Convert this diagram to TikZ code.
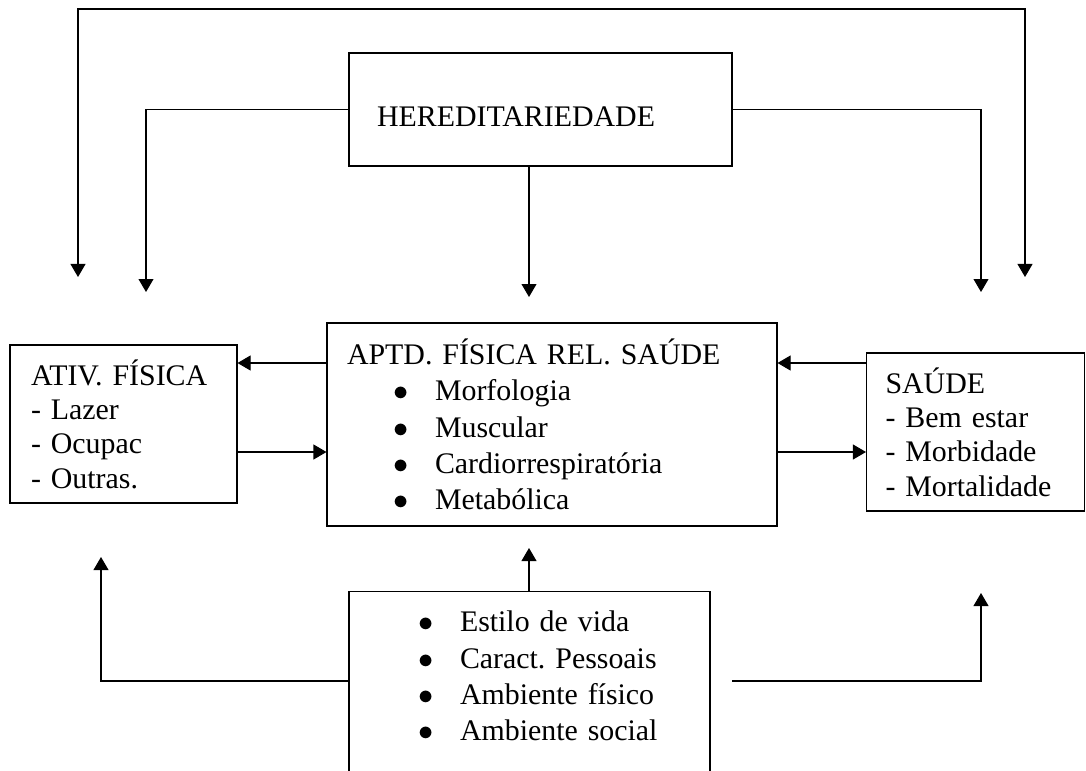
\documentclass[tikz,border=0pt]{standalone}
\usepackage{fontspec}
\setmainfont{Liberation Serif}
\usetikzlibrary{arrows.meta,positioning,calc}

\frenchspacing
\newcommand{\bitem}[1]{\hspace*{0.92cm}\makebox[0.84cm][l]{$\bullet$}#1}

\begin{document}
\begin{tikzpicture}[
    line width=0.6pt,
    >={Triangle[length=7.4pt,width=8.5pt]},
    box/.style={draw, rectangle, align=left, inner ysep=0pt, font=\fontsize{17pt}{19.5pt}\selectfont},
    listbox/.style={box, font=\fontsize{17pt}{20.7pt}\selectfont}
  ]
  \useasboundingbox (0,0) rectangle (21.72,15.4);

  % boxes
  \node[box, minimum height=2.26cm, text width=6.54cm, inner xsep=0.56cm] (hered) at (10.81,13.21) {~\\HEREDITARIEDADE};
  \node[listbox, minimum height=4.06cm, text width=8.2cm, inner xsep=0.4cm] (aptd) at (11.04,6.91)
    {APTD. FÍSICA REL. SAÚDE\\ \bitem{Morfologia}\\ \bitem{Muscular}\\ \bitem{Cardiorrespiratória}\\ \bitem{Metabólica}};
  \node[box, minimum height=3.16cm, text width=3.7cm, inner xsep=0.42cm] (ativ) at (2.47,6.92)
    {ATIV. FÍSICA\\- Lazer\\- Ocupac\\- Outras.};
  \node[box, minimum height=3.16cm, text width=3.6cm, inner xsep=0.38cm] (saude) at (19.51,6.76)
    {SAÚDE\\- Bem estar\\- Morbidade\\- Mortalidade};
  \node[listbox, anchor=north, text width=6.3cm, inner xsep=0.46cm, inner ysep=0.39cm] (fatores) at (10.59,3.58)
    {\bitem{Estilo de vida}\\ \bitem{Caract. Pessoais}\\ \bitem{Ambiente físico}\\ \bitem{Ambiente social}\\ ~};

  % upper connectors
  \coordinate (topL) at (1.56,9.86);
  \coordinate (topR) at (20.5,9.86);
  \draw[<->] (topL) -- ++(0,5.36) -| (topR);
  \coordinate (hL) at (2.92,9.56);
  \coordinate (hR) at (19.62,9.56);
  \coordinate (hM) at (10.58,9.46);
  \draw[->] (hered.west) -| (hL);
  \draw[->] (hered.east) -| (hR);
  \draw[->] (hered.south -| hM) -- (hM);

  % middle row
  \draw[->] (aptd.west |- 0,8.14) -- (ativ.east |- 0,8.14);
  \draw[->] (ativ.east |- 0,6.36) -- (aptd.west |- 0,6.36);
  \draw[->] (saude.west |- 0,8.14) -- (aptd.east |- 0,8.14);
  \draw[->] (aptd.east |- 0,6.36) -- (saude.west |- 0,6.36);

  % lower connectors
  \coordinate (fM) at (10.58,4.44);
  \coordinate (fL) at (2.02,4.26);
  \coordinate (fR0) at (14.64,1.78);
  \coordinate (fR) at (19.62,3.54);
  \draw[->] (fatores.north -| fM) -- (fM);
  \draw[->] (fatores.west |- 0,1.78) -| (fL);
  \draw[->] (fR0) -| (fR);
\end{tikzpicture}
\end{document}
